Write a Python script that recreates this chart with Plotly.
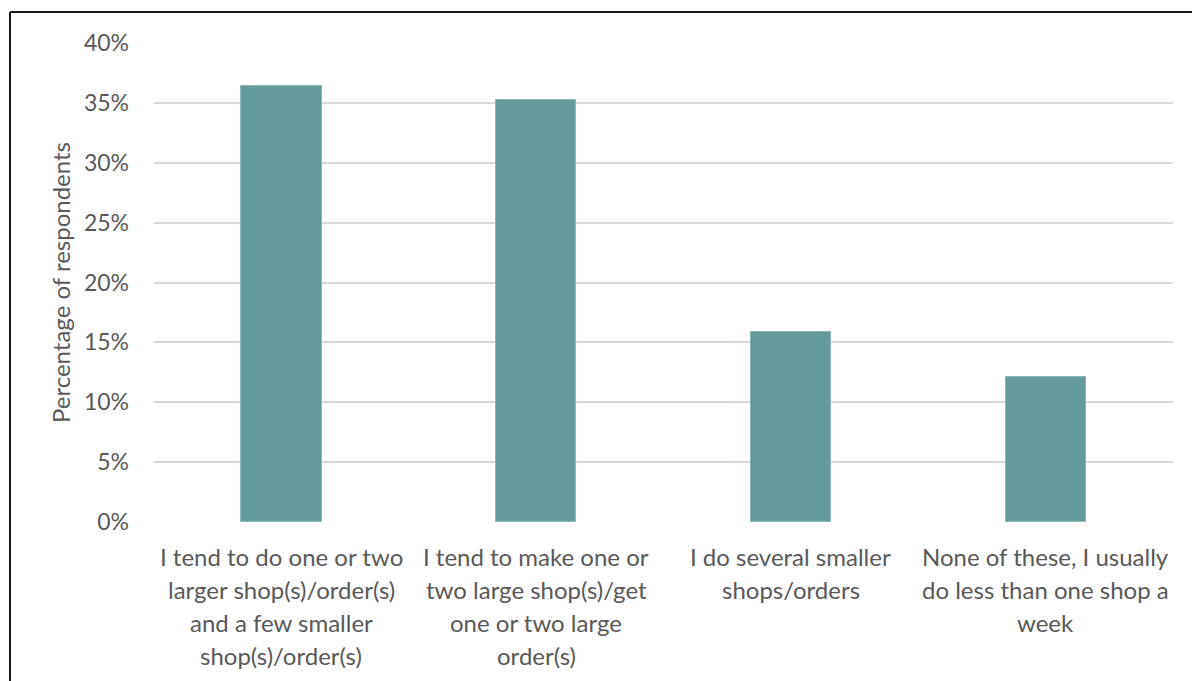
import plotly.graph_objects as go

# Survey responses: typical weekly shopping pattern
categories = [
    "I tend to do one or two<br>larger shop(s)/order(s)<br>and a few smaller<br>shop(s)/order(s)",
    "I tend to make one or<br>two large shop(s)/get<br>one or two large<br>order(s)",
    "I do several smaller<br>shops/orders",
    "None of these, I usually<br>do less than one shop a<br>week",
]
values = [36.4, 35.2, 15.9, 12.1]
y_ticks = [0, 5, 10, 15, 20, 25, 30, 35, 40]

W, H = 1192, 681
ML, MR, MT, MB = 154, 19, 43, 159
FONT = "Lato"
GREY = "#595959"

fig = go.Figure(
    go.Bar(
        x=list(range(len(categories))),
        y=values,
        width=0.315,
        marker=dict(color="#639a9c", line=dict(color="#8fb7b8", width=1)),
        hoverinfo="skip",
    )
)

# Multi-line category labels below the axis
LINE_H = 33
for i, cat in enumerate(categories):
    for j, line in enumerate(cat.split("<br>")):
        fig.add_annotation(
            x=i, y=0, xref="x", yref="y",
            text=line, showarrow=False,
            yanchor="middle", xanchor="center",
            yshift=-(34 + j * LINE_H),
            font=dict(family=FONT, size=24, color=GREY),
        )

# Outer frame: left and top edges
pw, ph = W - ML - MR, H - MT - MB
x_left = (10 - ML) / pw
y_top = 1 + (MT - 12) / ph
y_bot = -MB / ph
fig.add_shape(type="line", xref="paper", yref="paper",
              x0=x_left, x1=x_left, y0=y_bot, y1=y_top,
              line=dict(color="#1a1a1a", width=2))
fig.add_shape(type="line", xref="paper", yref="paper",
              x0=x_left, x1=(W - ML) / pw, y0=y_top, y1=y_top,
              line=dict(color="#1a1a1a", width=2))

fig.update_layout(
    width=W, height=H,
    margin=dict(l=ML, r=MR, t=MT, b=MB),
    paper_bgcolor="white", plot_bgcolor="white",
    showlegend=False,
    bargap=0,
    font=dict(family=FONT, color=GREY),
    xaxis=dict(
        range=[-0.5, len(categories) - 0.5],
        showticklabels=False, showgrid=False, zeroline=False,
        showline=False, ticks="",
    ),
    yaxis=dict(
        range=[0, 40],
        tickvals=y_ticks,
        ticktext=[f"{v}%" for v in y_ticks],
        tickfont=dict(family=FONT, size=23, color=GREY),
        showgrid=True, gridcolor="#d9d9d9", gridwidth=1.5,
        zeroline=False, showline=False, ticks="",
        ticklabelstandoff=24,
        title=dict(text="Percentage of respondents",
                   font=dict(family=FONT, size=24, color=GREY),
                   standoff=6),
    ),
)

fig.write_html("out.html")
